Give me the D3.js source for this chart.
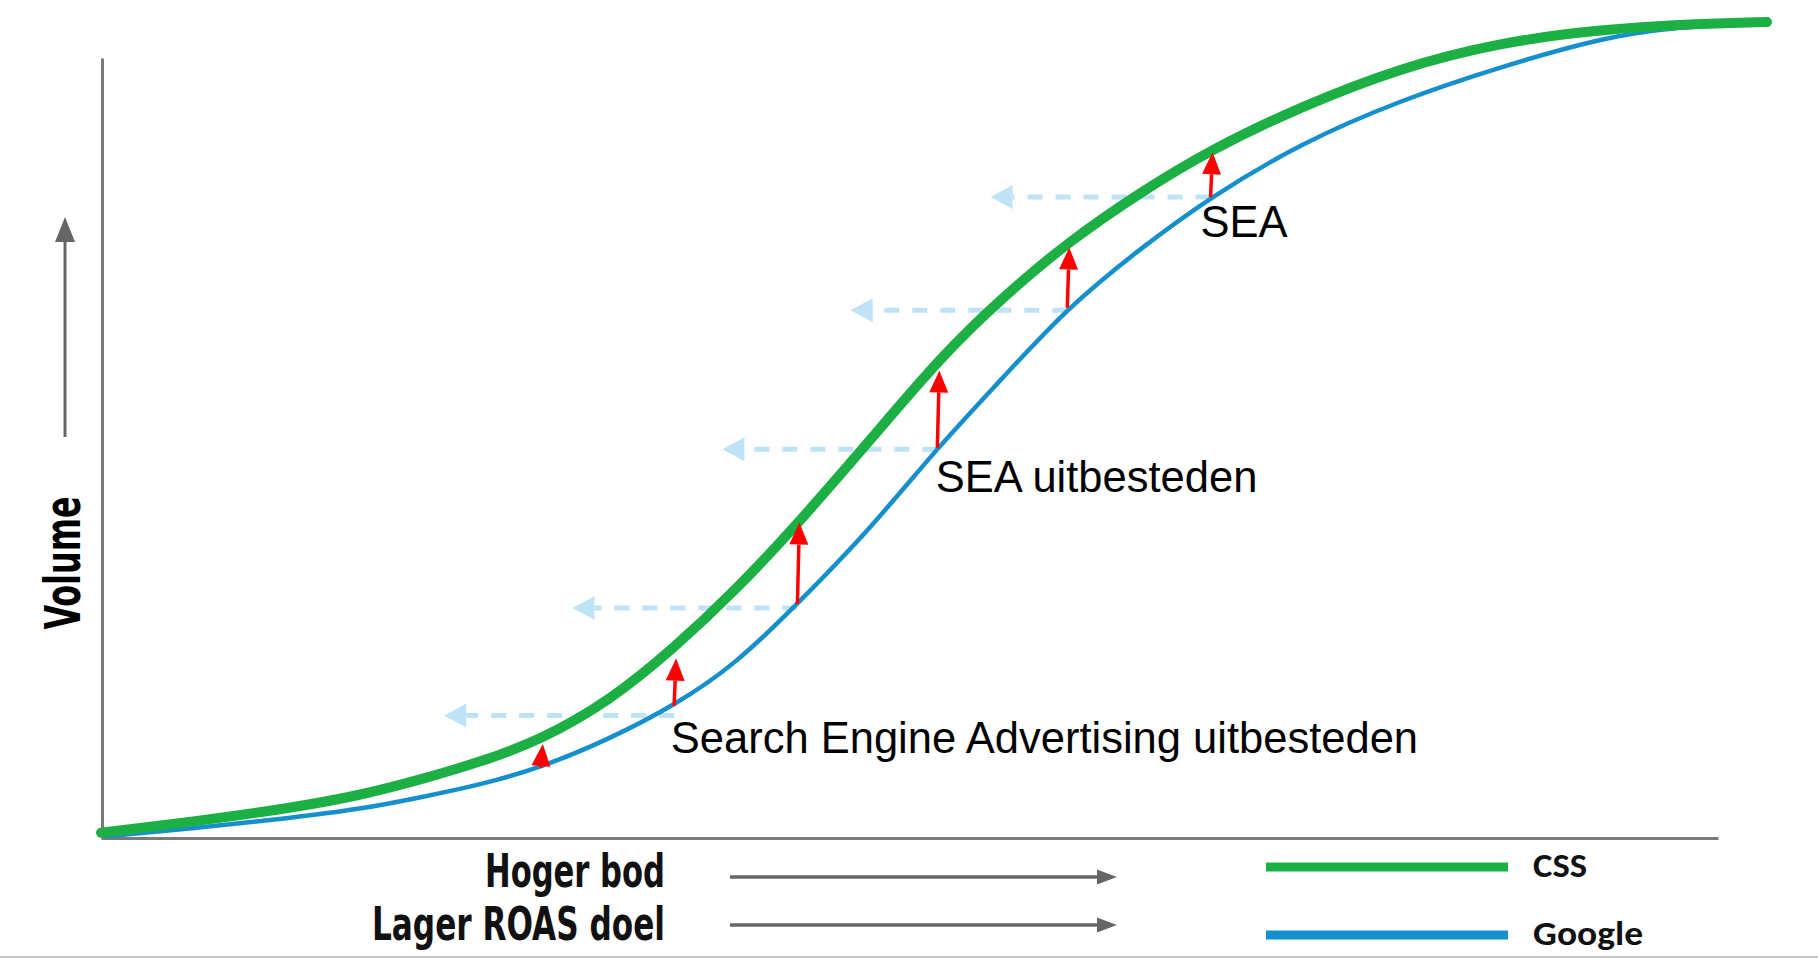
<!DOCTYPE html>
<meta charset="utf-8">
<script src="https://cdn.jsdelivr.net/npm/d3@7"></script>
<style>
  body { margin: 0; background: #fff; }
  svg { display: block; }
</style>
<body>
<script>

// Curve values (x: bid level, y: volume, both 0-100).
var cssX    = [0, 5.3, 11.3, 15.6, 19.3, 22.8, 26.4, 30.6, 34.3, 38.1, 41.8, 46.2, 50.5, 54.3, 58.0, 62.4, 66.6, 72.0, 78.0, 84.0, 90.0, 96.0, 100];
var cssY    = [0.4, 1.7, 3.4, 5.0, 7.0, 9.1, 11.8, 16.7, 22.9, 30.2, 38.3, 48.7, 59.1, 66.5, 72.9, 79.1, 84.3, 89.6, 94.4, 97.5, 99.1, 99.8, 100];
var googleX = [0.4, 5.9, 11.3, 15.6, 19.3, 22.8, 26.4, 30.4, 34.4, 38.1, 41.8, 46.3, 50.2, 54.0, 58.0, 62.4, 66.6, 72.0, 78.0, 84.0, 90.0, 94.0, 100];
var googleY = [0, 1.0, 2.2, 3.3, 4.8, 6.3, 8.4, 11.8, 16.0, 21.1, 28.5, 38.0, 47.7, 56.0, 64.9, 72.2, 78.5, 85.1, 90.4, 94.5, 98.0, 99.3, 100];

// Red "lift" arrows: from the Google curve up to the CSS curve.
var liftX    = [26.4, 34.4, 41.8, 50.2, 58.0, 66.6];
var liftFrom = [8.4, 16.0, 28.5, 47.7, 64.9, 78.5];
var liftTo   = [11.3, 21.8, 38.5, 57.2, 72.3, 84.0];

// Dashed "same volume, lower bid" arrows.
var shiftFrom = [34.4, 41.8, 50.2, 58.0, 66.6];
var shiftTo   = [20.6, 28.3, 37.3, 45.0, 53.4];
var shiftY    = [14.8, 28.0, 47.5, 64.6, 78.5];

var labels  = ["Search Engine Advertising uitbesteden", "SEA uitbesteden", "SEA"];
var labelX  = [34.2, 50.1, 66.0];
var labelY  = [10.2, 42.3, 73.6];

var seriesNames  = ["CSS", "Google"];
var seriesColors = ["#1cb044", "#1590cd"];

var W = 1818, H = 959;

var svg = d3.select("body").append("svg")
    .attr("width", W)
    .attr("height", H);

var x = d3.scaleLinear().domain([0, 100]).range([101, 1767]);
var y = d3.scaleLinear().domain([0, 100]).range([836, 22]);

// Axes: bare domain lines, no ticks.
svg.append("g")
    .attr("transform", "translate(0," + (y(0) + 2) + ")")
    .call(d3.axisBottom(x.copy().domain([0, 97.1]).range([101, 1718])).ticks(0).tickSizeOuter(0))
    .select(".domain").attr("stroke", "#7a7a7a").attr("stroke-width", 3);

svg.append("g")
    .attr("transform", "translate(102,0)")
    .call(d3.axisLeft(y.copy().domain([0, 95.6]).range([838, 58])).ticks(0).tickSizeOuter(0))
    .select(".domain").attr("stroke", "#7a7a7a").attr("stroke-width", 3);

// Helper: a straight arrow with a triangular head.
function arrow(g, x1, y1, x2, y2, color, width, headW, headL, dash) {
  var dx = x2 - x1, dy = y2 - y1, len = Math.sqrt(dx * dx + dy * dy);
  var ux = dx / len, uy = dy / len;
  var bx = x2 - ux * headL, by = y2 - uy * headL;
  g.append("line")
    .attr("x1", x1).attr("y1", y1).attr("x2", bx).attr("y2", by)
    .attr("stroke", color).attr("stroke-width", width)
    .attr("stroke-dasharray", dash || null);
  g.append("path")
    .attr("d", "M" + x2 + "," + y2 +
               "L" + (bx - uy * headW / 2) + "," + (by + ux * headW / 2) +
               "L" + (bx + uy * headW / 2) + "," + (by - ux * headW / 2) + "Z")
    .attr("fill", color);
}

// Dashed light-blue arrows (behind the curves).
var shifts = svg.append("g");
shiftFrom.forEach(function(d, i) {
  arrow(shifts, x(d), y(shiftY[i]), x(shiftTo[i]), y(shiftY[i]), "#bfe3f6", 5, 24, 22, "15,13");
});

// The two curves (B-spline to smooth out reading noise).
var line = d3.line().curve(d3.curveBasis);
svg.append("path")
    .datum(googleX.map(function(d, i) { return [x(d), y(googleY[i])]; }))
    .attr("d", line)
    .attr("fill", "none")
    .attr("stroke", seriesColors[1])
    .attr("stroke-width", 4.5)
    .attr("stroke-linecap", "round");
svg.append("path")
    .datum(cssX.map(function(d, i) { return [x(d), y(cssY[i])]; }))
    .attr("d", line)
    .attr("fill", "none")
    .attr("stroke", seriesColors[0])
    .attr("stroke-width", 10)
    .attr("stroke-linecap", "round");

// Red lift arrows.
var lifts = svg.append("g");
liftX.forEach(function(d, i) {
  arrow(lifts, x(d), y(liftFrom[i]), x(d) + 2, y(liftTo[i]), "#ff0000", 3.5, 19, 22);
});

// Annotations.
svg.selectAll(".note")
    .data(labels)
  .enter().append("text")
    .attr("class", "note")
    .attr("x", function(d, i) { return x(labelX[i]); })
    .attr("y", function(d, i) { return y(labelY[i]); })
    .attr("font-family", "'Liberation Sans', Arial, sans-serif")
    .attr("font-size", 43.5)
    .attr("fill", "#000")
    .text(function(d) { return d; });

// Y-axis title with its arrow.
var cond = "'DejaVu Sans Condensed', 'DejaVu Sans', sans-serif";
arrow(svg, 65, 437, 65, 217, "#666", 3, 20, 25);
svg.append("text")
    .attr("transform", "translate(80,563) rotate(-90)")
    .attr("text-anchor", "middle")
    .attr("font-family", cond)
    .attr("font-weight", "bold")
    .attr("font-size", 50)
    .attr("textLength", 133)
    .attr("lengthAdjust", "spacingAndGlyphs")
    .text("Volume");

// X-axis titles with arrows.
var xTitles = ["Hoger bod", "Lager ROAS doel"];
var xTitleW = [180, 293];
var xTitleY = [887, 940];
var xArrowY = [877, 925];
xTitles.forEach(function(t, i) {
  svg.append("text")
    .attr("x", 665 - xTitleW[i]).attr("y", xTitleY[i])
    .attr("font-family", cond)
    .attr("font-weight", "bold")
    .attr("font-size", 46)
    .attr("textLength", xTitleW[i])
    .attr("lengthAdjust", "spacingAndGlyphs")
    .attr("fill", "#111")
    .text(t);
  arrow(svg, 730, xArrowY[i], 1117, xArrowY[i], "#666", 3.5, 15, 20);
});

// Legend.
var legendY = [867, 935];
var legendW = [54, 110];
seriesNames.forEach(function(name, i) {
  svg.append("line")
    .attr("x1", 1266).attr("x2", 1508)
    .attr("y1", legendY[i]).attr("y2", legendY[i])
    .attr("stroke", seriesColors[i])
    .attr("stroke-width", 9);
  svg.append("text")
    .attr("x", 1533).attr("y", legendY[i] + 10)
    .attr("font-family", "Carlito, 'Open Sans', sans-serif")
    .attr("font-weight", "bold")
    .attr("font-size", 34)
    .attr("textLength", legendW[i])
    .attr("lengthAdjust", "spacingAndGlyphs")
    .attr("fill", "#111")
    .text(name);
});

// Thin border at the bottom of the picture.
svg.append("line")
    .attr("x1", 0).attr("x2", W)
    .attr("y1", 957).attr("y2", 957)
    .attr("stroke", "#c8c8c8").attr("stroke-width", 2);

</script>
</body>
</html>
